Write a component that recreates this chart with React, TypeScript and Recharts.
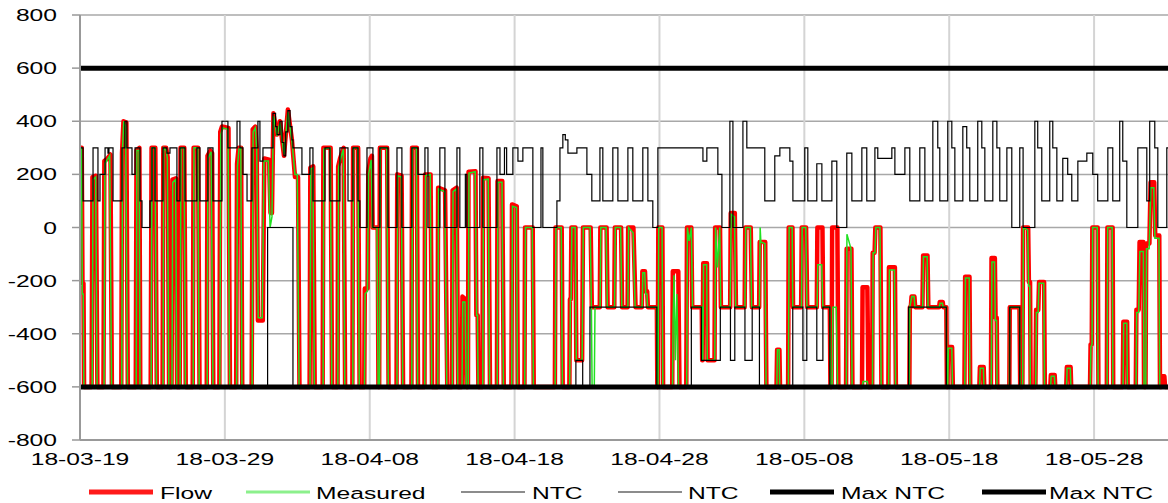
import React from 'react';
import { LineChart, Line, XAxis, YAxis, CartesianGrid } from 'recharts';

// x = days since 2018-03-19
const xTicks = [0, 10, 20, 30, 40, 50, 60, 70];
const xTickLabels = ['18-03-19', '18-03-29', '18-04-08', '18-04-18', '18-04-28', '18-05-08', '18-05-18', '18-05-28'];
const yTicks = [-800, -600, -400, -200, 0, 200, 400, 600, 800];

const legendItems = [
  { name: 'Flow', color: '#ff1a1a', width: 5, lineX: 89, textX: 160 },
  { name: 'Measured', color: '#8cf08c', width: 3, lineX: 246, textX: 316 },
  { name: 'NTC', color: '#8c8c8c', width: 2, lineX: 461, textX: 532 },
  { name: 'NTC', color: '#8c8c8c', width: 2, lineX: 618, textX: 688 },
  { name: 'Max NTC', color: '#000000', width: 5, lineX: 770, textX: 841 },
  { name: 'Max NTC', color: '#000000', width: 5, lineX: 982, textX: 1049 },
];

const flow: [number, number][] = [
  [0,300],[0.12,300],[0.17,-210],[0.24,-210],[0.28,-600],
  [0.8,-600],[0.86,190],[1.1,195],[1.2,-600],
  [1.62,-600],[1.68,250],[1.9,260],[2.1,275],[2.2,-600],
  [2.85,-600],[2.9,280],[3.0,400],[3.2,395],[3.3,-600],
  [3.85,-600],[3.9,290],[4.1,300],[4.16,-600],
  [4.88,-600],[4.94,300],[5.2,300],[5.3,-600],
  [5.7,-600],[5.75,300],[5.95,300],[6.05,265],[6.15,-600],
  [6.32,-600],[6.38,180],[6.62,185],[6.7,-600],
  [6.88,-600],[6.94,300],[7.2,300],[7.3,-600],
  [7.78,-600],[7.84,300],[8.15,300],[8.25,-600],
  [8.75,-600],[8.8,270],[9.0,290],[9.12,280],[9.2,-600],
  [9.62,-600],[9.68,360],[9.8,380],[10.25,375],[10.35,-600],
  [10.78,-600],[10.84,240],[10.95,300],[11.12,300],[11.2,-600],
  [11.85,-600],[11.92,370],[12.1,380],[12.2,300],[12.28,-350],[12.62,-350],[12.72,260],[13.05,255],[13.15,55],[13.25,55],[13.35,430],[13.6,350],[13.8,400],[14.08,270],[14.35,444],[14.63,330],[14.84,190],[15.05,190],[15.15,-600],
  [15.85,-600],[15.9,225],[16.1,230],[16.2,-600],
  [16.75,-600],[16.8,300],[17.3,300],[17.4,-600],
  [17.78,-600],[17.82,230],[17.95,260],[18.2,300],[18.3,-600],
  [18.8,-600],[18.85,300],[19.2,300],[19.3,-600],
  [19.62,-600],[19.66,-230],[19.85,-230],[19.9,210],[20.05,260],[20.15,270],[20.2,0],[20.55,0],[20.6,-600],
  [20.65,-600],[20.7,300],[21.2,300],[21.3,-600],
  [21.85,-600],[21.9,200],[22.2,195],[22.3,-600],
  [22.88,-600],[22.92,300],[23.25,300],[23.33,-600],
  [23.78,-600],[23.82,200],[24.2,200],[24.3,-600],
  [24.68,-600],[24.72,150],[25.2,140],[25.35,-600],
  [25.68,-600],[25.72,140],[26.0,150],[26.1,-600],
  [26.35,-600],[26.4,-260],[26.6,-270],[26.68,-600],
  [26.78,-600],[26.82,210],[27.3,212],[27.36,-330],[27.45,-330],[27.5,-600],
  [27.78,-600],[27.82,187],[28.2,185],[28.3,-600],
  [28.78,-600],[28.82,175],[29.15,175],[29.25,-600],
  [29.78,-600],[29.82,87],[30.15,80],[30.22,-600],
  [30.68,-600],[30.72,0],[31.25,0],[31.32,-600],
  [32.78,-600],[32.82,0],[33.25,0],[33.32,-600],
  [33.78,-600],[33.82,-270],[33.88,-270],[33.92,0],[34.2,0],[34.26,-500],[34.66,-500],[34.72,0],[35.25,0],[35.33,-300],
  [35.88,-300],[35.92,0],[36.35,0],[36.42,-300],
  [36.88,-300],[36.92,0],[37.35,0],[37.42,-300],
  [37.8,-300],[37.84,0],[38.2,0],[38.35,-300],
  [38.78,-300],[38.82,-165],[39.0,-165],[39.05,-240],[39.15,-240],[39.2,-300],
  [39.82,-300],[39.85,-600],[39.88,-600],[39.92,0],[40.2,0],[40.25,-600],
  [40.88,-600],[40.92,-165],[41.3,-165],[41.38,-600],
  [41.85,-600],[41.9,0],[42.2,0],[42.26,-300],[42.92,-300],[42.95,-500],[42.98,-500],[43.02,-135],[43.28,-135],[43.32,-500],
  [43.8,-500],[43.84,0],[44.18,0],[44.24,-300],[44.88,-300],[44.92,55],[45.2,55],[45.28,-300],
  [45.88,-300],[45.92,0],[46.3,0],[46.38,-300],[46.88,-300],[46.92,-55],[47.3,-55],[47.38,-600],
  [48.08,-600],[48.12,-460],[48.28,-460],[48.32,-600],
  [48.88,-600],[48.92,0],[49.18,0],[49.22,-300],
  [49.78,-300],[49.82,0],[50.12,0],[50.2,-300],[50.86,-300],[50.9,0],[51.25,0],[51.3,-300],[51.76,-300],[51.8,-600],
  [51.88,-600],[51.92,0],[52.28,0],[52.35,-600],
  [52.88,-600],[52.92,-80],[53.25,-80],[53.32,-600],
  [53.98,-600],[54.02,-225],[54.35,-225],[54.42,-600],
  [54.68,-600],[54.72,-95],[54.85,-95],[54.9,0],[55.25,0],[55.32,-600],
  [55.8,-600],[55.84,-150],[56.25,-150],[56.32,-600],
  [57.25,-600],[57.28,-300],[57.35,-300],[57.4,-260],[57.6,-260],[57.65,-300],
  [58.15,-300],[58.2,-105],[58.5,-105],[58.56,-300],
  [59.3,-300],[59.35,-280],[59.55,-280],[59.6,-300],[59.8,-300],[59.84,-600],
  [59.88,-600],[59.92,-450],[60.2,-450],[60.25,-600],
  [61.05,-600],[61.1,-185],[61.4,-185],[61.45,-600],
  [62.08,-600],[62.12,-525],[62.38,-525],[62.42,-600],
  [62.88,-600],[62.92,-115],[63.15,-115],[63.2,-340],[63.28,-340],[63.32,-600],
  [64.15,-600],[64.18,-300],[64.85,-300],[64.9,-600],
  [65.05,-600],[65.1,0],[65.45,0],[65.5,-205],[65.58,-205],[65.62,-600],
  [65.95,-600],[66.0,-310],[66.15,-310],[66.2,-205],[66.55,-205],[66.6,-600],
  [66.98,-600],[67.02,-555],[67.28,-555],[67.32,-600],
  [68.08,-600],[68.12,-525],[68.38,-525],[68.42,-600],
  [69.72,-600],[69.76,-440],[69.84,-440],[69.88,0],[70.25,0],[70.3,-600],
  [70.88,-600],[70.92,0],[71.28,0],[71.32,-600],
  [71.98,-600],[72.02,-355],[72.28,-355],[72.32,-600],
  [72.88,-600],[72.92,-310],[73.08,-310],[73.14,-55],[73.4,-55],[73.45,-600],
  [73.55,-600],[73.6,-60],[73.82,-60],[73.9,170],[74.15,170],[74.22,-30],[74.5,-30],[74.55,-600],
  [74.65,-600],[74.7,-560],[74.85,-560],[74.9,-600],[75.1,-600],
];

const measured: [number, number][] = [
  [0,300],[0.1,300],[0.16,-250],[0.22,-250],[0.27,-600],
  [0.84,-600],[0.9,180],[1.08,190],[1.18,-600],
  [1.66,-600],[1.72,240],[2.05,270],[2.18,-600],
  [2.88,-600],[2.94,300],[3.02,400],[3.15,380],[3.28,-600],
  [3.88,-600],[3.93,290],[4.08,290],[4.14,-600],
  [4.91,-600],[4.97,300],[5.18,300],[5.28,-600],
  [5.73,-600],[5.78,300],[5.95,290],[6.03,260],[6.13,-600],
  [6.35,-600],[6.4,170],[6.6,180],[6.68,-600],
  [6.91,-600],[6.97,300],[7.18,300],[7.28,-600],
  [7.81,-600],[7.87,300],[8.13,300],[8.23,-600],
  [8.78,-600],[8.83,260],[9.05,285],[9.18,-600],
  [9.65,-600],[9.72,350],[9.85,375],[10.22,370],[10.33,-600],
  [10.81,-600],[10.87,230],[10.97,295],[11.1,300],[11.18,-600],
  [11.88,-600],[11.95,360],[12.1,375],[12.2,290],[12.3,-340],[12.58,-340],[12.7,250],[13.0,250],[13.12,0],[13.25,40],[13.35,420],[13.6,345],[13.8,395],[14.08,275],[14.35,435],[14.63,325],[14.84,200],[15.0,200],[15.12,-600],
  [15.88,-600],[15.93,220],[16.08,225],[16.18,-600],
  [16.78,-600],[16.83,295],[17.28,300],[17.38,-600],
  [17.8,-600],[17.85,225],[17.97,255],[18.18,295],[18.28,-600],
  [18.83,-600],[18.88,300],[19.18,300],[19.28,-600],
  [19.64,-600],[19.68,-250],[19.84,-240],[19.92,200],[20.1,255],[20.18,0],[20.5,0],[20.58,-600],
  [20.68,-600],[20.73,300],[21.18,300],[21.28,-600],
  [21.88,-600],[21.93,195],[22.18,190],[22.28,-600],
  [22.9,-600],[22.95,300],[23.22,300],[23.31,-600],
  [23.8,-600],[23.85,195],[24.18,200],[24.28,-600],
  [24.7,-600],[24.75,145],[25.18,135],[25.32,-600],
  [25.7,-600],[25.75,135],[25.98,145],[26.08,-600],
  [26.37,-600],[26.42,-280],[26.58,-280],[26.66,-600],
  [26.8,-600],[26.85,205],[27.28,210],[27.38,-330],[27.44,-330],[27.48,-600],
  [27.8,-600],[27.85,180],[28.18,182],[28.28,-600],
  [28.8,-600],[28.85,170],[29.13,170],[29.23,-600],
  [29.8,-600],[29.85,80],[30.13,75],[30.2,-600],
  [30.7,-600],[30.75,0],[31.22,0],[31.3,-600],
  [32.8,-600],[32.85,0],[33.22,0],[33.3,-600],
  [33.8,-600],[33.85,-270],[33.9,-270],[33.95,0],[34.18,0],[34.26,-500],[34.66,-500],[34.74,0],[35.22,0],[35.3,-300],[35.35,-600],[35.5,-600],[35.55,-300],
  [35.9,-300],[35.95,0],[36.32,0],[36.4,-300],
  [36.9,-300],[36.95,0],[37.32,0],[37.4,-300],
  [37.82,-300],[37.87,0],[38.18,-20],[38.32,-300],
  [38.8,-300],[38.85,-170],[38.98,-170],[39.05,-250],[39.13,-250],[39.18,-300],
  [39.8,-300],[39.84,-600],[39.9,-600],[39.95,0],[40.18,0],[40.23,-600],
  [40.9,-600],[40.94,-350],[41.0,-180],[41.1,-500],[41.2,-250],[41.32,-600],
  [41.88,-600],[41.93,0],[42.05,-50],[42.2,0],[42.28,-300],[42.92,-300],[42.95,-500],[43.0,-500],[43.04,-140],[43.26,-140],[43.3,-500],
  [43.82,-500],[43.87,0],[44.0,-150],[44.16,0],[44.23,-300],[44.88,-300],[44.95,50],[45.18,40],[45.26,-300],
  [45.9,-300],[45.95,0],[46.28,0],[46.36,-300],[46.9,-300],[46.95,0],[47.0,-55],[47.28,-60],[47.36,-600],
  [48.1,-600],[48.14,-460],[48.26,-460],[48.3,-600],
  [48.9,-600],[48.95,0],[49.16,0],[49.2,-300],
  [49.8,-300],[49.85,0],[50.1,0],[50.18,-300],[50.88,-300],[50.93,-140],[51.2,-140],[51.28,-300],[51.76,-300],[51.8,-600],
  [51.92,-600],[51.97,-300],[52.2,-300],[52.3,-600],
  [52.9,-600],[52.94,-25],[53.22,-80],[53.3,-600],
  [54.0,-600],[54.05,-580],[54.35,-580],[54.4,-600],
  [54.7,-600],[54.75,-95],[54.88,-95],[54.93,0],[55.22,0],[55.3,-600],
  [55.82,-600],[55.87,-160],[56.22,-160],[56.3,-600],
  [57.25,-600],[57.28,-300],[57.42,-260],[57.58,-260],[57.63,-300],
  [58.17,-300],[58.22,-110],[58.48,-110],[58.54,-300],
  [59.32,-300],[59.37,-285],[59.53,-285],[59.58,-300],[59.8,-300],[59.84,-600],
  [59.9,-600],[59.94,-455],[60.18,-455],[60.23,-600],
  [61.08,-600],[61.12,-190],[61.38,-190],[61.43,-600],
  [62.1,-600],[62.14,-530],[62.36,-530],[62.4,-600],
  [62.9,-600],[62.95,-130],[63.13,-130],[63.18,-350],[63.27,-350],[63.3,-600],
  [64.15,-600],[64.18,-300],[64.85,-300],[64.9,-600],
  [65.07,-600],[65.12,0],[65.42,-10],[65.48,-220],[65.56,-220],[65.6,-600],
  [65.97,-600],[66.02,-320],[66.14,-320],[66.2,-210],[66.53,-210],[66.58,-600],
  [67.0,-600],[67.04,-560],[67.26,-560],[67.3,-600],
  [68.1,-600],[68.14,-530],[68.36,-530],[68.4,-600],
  [69.74,-600],[69.78,-450],[69.86,-440],[69.9,0],[70.22,0],[70.28,-600],
  [70.9,-600],[70.94,0],[71.25,0],[71.3,-600],
  [72.0,-600],[72.04,-360],[72.26,-360],[72.3,-600],
  [72.9,-600],[72.94,-320],[73.08,-320],[73.16,-90],[73.4,-90],[73.45,-600],
  [73.57,-600],[73.62,-80],[73.8,-80],[73.92,150],[74.12,150],[74.2,-40],[74.48,-40],[74.53,-600],[75.1,-600],
];

// upper NTC, step changes (day, MW)
const ntcUpper: [number, number][] = [
  [0,300],[0.21,100],[0.9,300],[1.24,100],[1.38,200],[1.73,300],[1.93,280],[2.0,300],[2.28,100],[2.9,300],[3.1,400],[3.24,300],[3.59,200],[3.8,300],[4.14,100],[4.28,0],[4.83,100],[4.97,300],[5.18,100],[5.73,300],[6.0,280],[6.21,300],[6.69,100],[6.9,300],[7.25,100],[8.07,300],[8.28,100],[8.83,300],[9.18,100],[9.8,400],[10.21,300],[10.84,400],[11.04,300],[11.25,200],[11.53,100],[11.87,300],[12.28,400],[12.42,250],[12.63,300],[13.32,430],[13.5,380],[13.6,350],[13.8,400],[13.95,320],[14.08,270],[14.2,360],[14.35,440],[14.5,380],[14.63,330],[14.7,300],
  [15.32,200],[15.87,300],[16.08,100],[16.91,300],[17.25,100],[17.94,300],[18.5,100],[18.84,300],[19.19,100],[19.32,0],[19.81,300],[20.22,0],[20.7,300],[21.26,0],[21.88,300],[22.22,0],[22.91,300],[23.33,200],[23.81,300],[24.02,0],[24.84,300],[25.19,0],[26.02,300],[26.22,0],[26.6,200],[26.7,0],[27.6,300],[27.81,0],[28.78,300],[28.99,200],[29.3,300],[29.45,200],[29.88,300],[30.23,250],[30.57,300],[31.26,0],[31.82,300],[31.95,0],[32.92,100],[33.13,300],[33.33,350],[33.5,330],[33.68,280],[34.3,300],[34.99,200],[35.33,100],[35.89,300],[36.09,100],[36.78,300],[37.13,100],[37.82,300],[38.16,100],[38.85,300],[39.2,100],[39.54,0],[39.89,300],
  [43.0,250],[43.27,300],[44.03,200],[44.31,0],[44.86,400],[45.07,0],[45.76,400],[46.03,300],[47.27,100],[47.96,270],[48.31,300],[49.0,250],[49.21,100],[50.03,300],[50.24,100],[50.86,240],[51.21,100],[51.9,250],[52.24,0],[52.93,280],[53.28,100],[53.97,300],[54.31,100],[54.87,300],[55.07,260],[56.04,300],[56.25,200],[56.94,300],[57.28,100],[57.97,300],[58.32,100],[58.87,400],[59.21,300],[59.35,100],[59.9,400],[60.18,300],[60.39,100],[60.94,380],[61.21,300],[61.42,100],[61.97,400],[62.25,300],[62.46,100],[63.01,400],[63.29,300],[63.49,100],[63.98,300],[64.32,0],[64.87,300],[65.1,0],[65.91,400],[66.11,300],[66.39,100],[66.94,400],[67.15,300],[67.43,100],[67.84,260],[68.18,200],[68.46,100],[68.88,250],[69.5,280],[69.91,200],[70.25,100],[70.95,300],[71.29,100],[71.77,400],[71.98,250],[72.26,0],[73.02,300],[73.64,100],[73.84,400],[74.19,300],[74.4,0],[75.02,300],[76,300],
];

// lower NTC, step changes (day, MW)
const ntcLower: [number, number][] = [
  [0,-600],[12.95,0],[14.7,-600],[34.23,-500],[34.7,-600],[35.2,-300],[39.82,-600],[42.2,-300],[42.9,-500],[44.2,-300],[44.9,-500],[45.2,-300],[45.9,-500],[46.4,-300],[46.9,-600],[49.2,-300],[49.9,-500],[50.17,-300],[50.86,-500],[51.28,-300],[51.76,-600],[57.2,-300],[59.8,-600],[64.18,-300],[64.87,-600],[76,-600],
];

const maxNtcUpper: [number, number][] = [[0, 600], [76, 600]];
const maxNtcLower: [number, number][] = [[0, -600], [76, -600]];

const rows = (pts: [number, number][]) => pts.map(([d, v]) => ({ d, v }));

const FONT = "'Liberation Sans', Arial, sans-serif";
const STRETCH = 1.45;

const YTick = (props: any) => {
  const { x, y, payload } = props;
  return (
    <g transform={`translate(${x},${y})`}>
      <text transform={`scale(${STRETCH},1)`} textAnchor="end" dy="0.36em" fontSize={17} fill="#000" fontFamily={FONT}>
        {payload.value}
      </text>
    </g>
  );
};

const XTick = (props: any) => {
  const { x, y, payload } = props;
  const i = xTicks.indexOf(payload.value);
  const label = i >= 0 ? xTickLabels[i] : '';
  return (
    <g transform={`translate(${x},${y + 25})`}>
      <text transform={`scale(${STRETCH},1)`} textAnchor="middle" fontSize={17} fill="#000" fontFamily={FONT}>
        {label}
      </text>
    </g>
  );
};

export default function App() {
  return (
    <div style={{ position: 'absolute', left: 0, top: 0, width: 1168, height: 503, overflow: 'hidden', background: '#fff' }}>
      <div style={{ position: 'absolute', left: 8, top: 3 }}>
        <LineChart width={1173} height={465} margin={{ top: 12, right: 0, bottom: 0, left: 0 }}>
          <CartesianGrid vertical={false} stroke="#a8a8a8" strokeWidth={1.5} />
          <CartesianGrid horizontal={false} stroke="#d4d4d4" strokeWidth={2} />
          <XAxis
            dataKey="d"
            type="number"
            domain={[0, 76]}
            ticks={xTicks}
            allowDataOverflow
            height={28}
            tickSize={0}
            tickMargin={0}
            tickLine={false}
            axisLine={{ stroke: '#999999', strokeWidth: 2 }}
            tick={<XTick />}
            interval={0}
          />
          <YAxis
            type="number"
            domain={[-800, 800]}
            ticks={yTicks}
            width={72}
            tickSize={8}
            tickMargin={15}
            tickLine={{ stroke: '#999999', strokeWidth: 1.5 }}
            axisLine={{ stroke: '#999999', strokeWidth: 2 }}
            tick={<YTick />}
            interval={0}
          />
          <Line data={rows(flow)} dataKey="v" name="Flow" type="linear" stroke="#ff0000" strokeWidth={4.5} strokeLinejoin="round" dot={false} isAnimationActive={false} />
          <Line data={rows(measured)} dataKey="v" name="Measured" type="linear" stroke="#22e022" strokeWidth={1.5} dot={false} isAnimationActive={false} />
          <Line data={rows(ntcUpper)} dataKey="v" name="NTC" type="stepAfter" stroke="#000000" strokeWidth={1.2} dot={false} isAnimationActive={false} />
          <Line data={rows(ntcLower)} dataKey="v" name="NTC" type="stepAfter" stroke="#000000" strokeWidth={1.2} dot={false} isAnimationActive={false} />
          <Line data={rows(maxNtcUpper)} dataKey="v" name="Max NTC" type="linear" stroke="#000000" strokeWidth={5} dot={false} isAnimationActive={false} />
          <Line data={rows(maxNtcLower)} dataKey="v" name="Max NTC" type="linear" stroke="#000000" strokeWidth={5} dot={false} isAnimationActive={false} />
        </LineChart>
      </div>
      <svg width={1168} height={33} style={{ position: 'absolute', left: 0, top: 470 }}>
        {legendItems.map((it, i) => (
          <g key={i}>
            <line x1={it.lineX} x2={it.lineX + 64} y1={22} y2={22} stroke={it.color} strokeWidth={it.width} />
            <g transform={`translate(${it.textX},29)`}>
              <text transform={`scale(${STRETCH},1)`} fontSize={17} fill="#000" fontFamily={FONT}>
                {it.name}
              </text>
            </g>
          </g>
        ))}
      </svg>
    </div>
  );
}
